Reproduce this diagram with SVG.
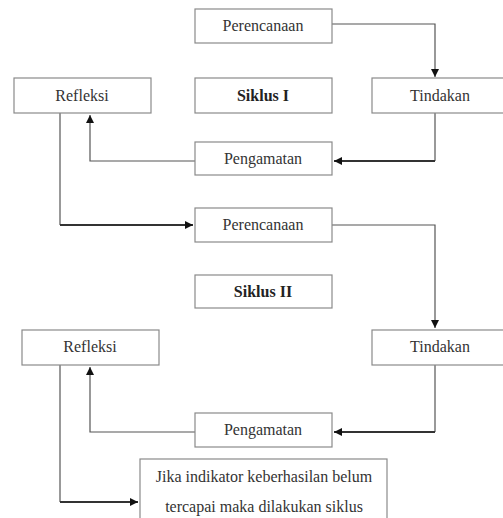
<svg xmlns="http://www.w3.org/2000/svg" width="503" height="518" viewBox="0 0 503 518">
<defs>
<marker id="ah" viewBox="0 0 10 10" refX="10" refY="5" markerWidth="8" markerHeight="8" markerUnits="userSpaceOnUse" orient="auto">
<path d="M0,0 L10,5 L0,10 z" fill="#111"/>
</marker>
</defs>
<style>
.box{fill:#fff;stroke:#8a8a8a;stroke-width:1.2}
.t{font-family:"Liberation Serif","Times New Roman",serif;font-size:16px;fill:#333;text-anchor:middle}
.b{font-weight:bold;fill:#222}
.c{fill:none;stroke:#555;stroke-width:1.2}
.d{fill:none;stroke:#333;stroke-width:1.8}
</style>
<rect width="503" height="518" fill="#fff"/>
<g id="connectors">
<path class="c" d="M332,24 H435 V77" marker-end="url(#ah)"/>
<path class="c" d="M435,113 V161"/>
<path class="d" d="M435,161 H334" marker-end="url(#ah)"/>
<path class="c" d="M195,161 H90 V115" marker-end="url(#ah)"/>
<path class="c" d="M60,113 V225"/>
<path class="d" d="M60,225 H193" marker-end="url(#ah)"/>
<path class="c" d="M332,225 H435 V328" marker-end="url(#ah)"/>
<path class="c" d="M435,365 V432"/>
<path class="d" d="M435,432 H334" marker-end="url(#ah)"/>
<path class="c" d="M195,432 H90 V367" marker-end="url(#ah)"/>
<path class="c" d="M60,365 V502"/>
<path class="d" d="M60,502 H138" marker-end="url(#ah)"/>
</g>
<g id="perencanaan1"><rect class="box" x="195" y="9" width="137" height="34"/><text class="t" x="263" y="31">Perencanaan</text></g>
<g id="refleksi1"><rect class="box" x="14" y="78" width="137" height="35"/><text class="t" x="82" y="101">Refleksi</text></g>
<g id="siklus1"><rect class="box" x="195" y="78" width="137" height="35"/><text class="t b" x="263" y="101">Siklus I</text></g>
<g id="tindakan1"><rect class="box" x="372" y="78" width="136" height="35"/><text class="t" x="440" y="101">Tindakan</text></g>
<g id="pengamatan1"><rect class="box" x="195" y="142" width="137" height="33"/><text class="t" x="263" y="164">Pengamatan</text></g>
<g id="perencanaan2"><rect class="box" x="195" y="208" width="137" height="34"/><text class="t" x="263" y="230">Perencanaan</text></g>
<g id="siklus2"><rect class="box" x="195" y="275" width="137" height="33"/><text class="t b" x="263" y="297">Siklus II</text></g>
<g id="refleksi2"><rect class="box" x="22" y="330" width="137" height="35"/><text class="t" x="90" y="352">Refleksi</text></g>
<g id="tindakan2"><rect class="box" x="372" y="330" width="136" height="35"/><text class="t" x="440" y="352">Tindakan</text></g>
<g id="pengamatan2"><rect class="box" x="195" y="413" width="137" height="34"/><text class="t" x="263" y="435">Pengamatan</text></g>
<g id="keterangan"><rect class="box" x="140" y="459" width="247" height="70"/><text class="t" x="264" y="482">Jika indikator keberhasilan belum</text><text class="t" x="264" y="512">tercapai maka dilakukan siklus</text></g>
</svg>
